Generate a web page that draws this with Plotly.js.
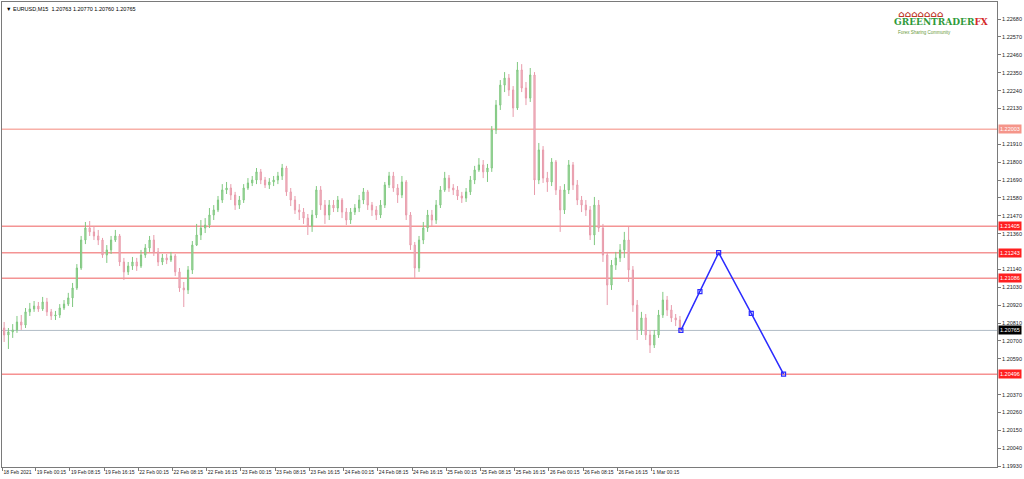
<!DOCTYPE html>
<html><head><meta charset="utf-8">
<script src="https://cdn.plot.ly/plotly-3.0.1.min.js"></script>
<style>html,body{margin:0;padding:0;background:#fff}#chart{width:1024px;height:479px}</style>
</head><body><div id="chart"></div>
<script>
// Hourly OHLC (18 Feb 2021 - 1 Mar 2021)
const openP = [1.20780,1.20737,1.20756,1.20768,1.20817,1.20798,1.20879,1.20897,1.20915,1.20897,
 1.20940,1.20879,1.20854,1.20860,1.20903,1.20927,1.20965,1.21026,1.21149,1.21321,
 1.21395,1.21371,1.21346,1.21321,1.21229,1.21260,1.21321,1.21346,1.21186,1.21125,
 1.21161,1.21186,1.21161,1.21229,1.21272,1.21321,1.21248,1.21186,1.21211,1.21198,
 1.21223,1.21125,1.21026,1.21014,1.21137,1.21290,1.21352,1.21395,1.21413,1.21475,
 1.21506,1.21567,1.21629,1.21641,1.21598,1.21536,1.21567,1.21641,1.21672,1.21690,
 1.21740,1.21690,1.21660,1.21678,1.21690,1.21715,1.21764,1.21617,1.21567,1.21506,
 1.21493,1.21456,1.21407,1.21475,1.21629,1.21536,1.21475,1.21536,1.21518,1.21567,
 1.21493,1.21444,1.21493,1.21518,1.21567,1.21617,1.21536,1.21506,1.21475,1.21536,
 1.21660,1.21715,1.21641,1.21598,1.21678,1.21475,1.21290,1.21149,1.21321,1.21395,
 1.21475,1.21444,1.21536,1.21629,1.21702,1.21641,1.21629,1.21592,1.21579,1.21617,
 1.21690,1.21752,1.21783,1.21740,1.21764,1.21998,1.22151,1.22274,1.22317,1.22244,
 1.22133,1.22367,1.22256,1.22194,1.22336,1.21690,1.21875,1.21702,1.21678,1.21801,
 1.21629,1.21506,1.21629,1.21783,1.21660,1.21567,1.21536,1.21506,1.21352,1.21536,
 1.21395,1.21229,1.21044,1.21167,1.21211,1.21260,1.21321,1.21137,1.20921,1.20768,
 1.20842,1.20737,1.20675,1.20737,1.20860,1.20952,1.20891,1.20842,1.20829];
const highP = [1.20817,1.20780,1.20804,1.20854,1.20860,1.20903,1.20934,1.20946,1.20940,1.20971,
 1.20965,1.20897,1.20885,1.20927,1.20952,1.20996,1.21057,1.21173,1.21346,1.21432,
 1.21438,1.21407,1.21383,1.21334,1.21290,1.21346,1.21383,1.21358,1.21211,1.21186,
 1.21217,1.21211,1.21260,1.21296,1.21346,1.21352,1.21272,1.21235,1.21235,1.21248,
 1.21235,1.21149,1.21063,1.21161,1.21315,1.21420,1.21444,1.21456,1.21518,1.21536,
 1.21592,1.21665,1.21678,1.21665,1.21617,1.21592,1.21665,1.21702,1.21715,1.21764,
 1.21758,1.21709,1.21702,1.21715,1.21740,1.21789,1.21777,1.21641,1.21592,1.21542,
 1.21518,1.21481,1.21506,1.21653,1.21653,1.21567,1.21567,1.21567,1.21592,1.21579,
 1.21518,1.21518,1.21542,1.21598,1.21641,1.21629,1.21555,1.21530,1.21567,1.21678,
 1.21740,1.21740,1.21665,1.21715,1.21690,1.21493,1.21309,1.21346,1.21432,1.21506,
 1.21506,1.21567,1.21653,1.21740,1.21721,1.21665,1.21653,1.21617,1.21641,1.21715,
 1.21777,1.21825,1.21813,1.21789,1.22022,1.22182,1.22305,1.22354,1.22342,1.22268,
 1.22416,1.22403,1.22293,1.22379,1.22354,1.21918,1.21899,1.21740,1.21825,1.21813,
 1.21653,1.21665,1.21813,1.21801,1.21690,1.21592,1.21567,1.21530,1.21586,1.21567,
 1.21420,1.21248,1.21198,1.21248,1.21296,1.21371,1.21401,1.21161,1.20952,1.20879,
 1.20866,1.20768,1.20768,1.20891,1.21002,1.20977,1.20921,1.20866,1.20854];
const lowP = [1.20694,1.20651,1.20719,1.20750,1.20768,1.20780,1.20854,1.20879,1.20879,1.20885,
 1.20854,1.20829,1.20829,1.20842,1.20891,1.20915,1.20909,1.21014,1.21137,1.21296,
 1.21346,1.21321,1.21290,1.21211,1.21180,1.21235,1.21309,1.21161,1.21075,1.21106,
 1.21137,1.21131,1.21149,1.21211,1.21248,1.21223,1.21161,1.21167,1.21173,1.21186,
 1.21100,1.21002,1.20909,1.20989,1.21112,1.21284,1.21321,1.21364,1.21395,1.21444,
 1.21493,1.21549,1.21604,1.21567,1.21506,1.21512,1.21549,1.21629,1.21653,1.21665,
 1.21665,1.21641,1.21635,1.21653,1.21665,1.21690,1.21592,1.21530,1.21481,1.21444,
 1.21420,1.21352,1.21371,1.21456,1.21506,1.21420,1.21444,1.21493,1.21493,1.21456,
 1.21413,1.21420,1.21475,1.21493,1.21542,1.21506,1.21469,1.21444,1.21456,1.21518,
 1.21641,1.21617,1.21549,1.21579,1.21444,1.21260,1.21088,1.21125,1.21296,1.21371,
 1.21407,1.21420,1.21518,1.21617,1.21617,1.21598,1.21567,1.21549,1.21555,1.21598,
 1.21665,1.21740,1.21702,1.21678,1.21740,1.21973,1.22121,1.22231,1.22207,1.22078,
 1.22121,1.22231,1.22151,1.22170,1.21598,1.21665,1.21672,1.21617,1.21653,1.21598,
 1.21371,1.21481,1.21604,1.21629,1.21536,1.21493,1.21469,1.21321,1.21290,1.21371,
 1.21186,1.20921,1.21014,1.21137,1.21186,1.21211,1.21063,1.20879,1.20706,1.20737,
 1.20706,1.20626,1.20657,1.20719,1.20842,1.20854,1.20817,1.20792,1.20750];
const closeP = [1.20737,1.20756,1.20768,1.20817,1.20798,1.20879,1.20897,1.20915,1.20897,1.20940,
 1.20879,1.20854,1.20860,1.20903,1.20927,1.20965,1.21026,1.21149,1.21321,1.21395,
 1.21371,1.21346,1.21321,1.21229,1.21260,1.21321,1.21346,1.21186,1.21125,1.21161,
 1.21186,1.21161,1.21229,1.21272,1.21321,1.21248,1.21186,1.21211,1.21198,1.21223,
 1.21125,1.21026,1.21014,1.21137,1.21290,1.21352,1.21395,1.21413,1.21475,1.21506,
 1.21567,1.21629,1.21641,1.21598,1.21536,1.21567,1.21641,1.21672,1.21690,1.21740,
 1.21690,1.21660,1.21678,1.21690,1.21715,1.21764,1.21617,1.21567,1.21506,1.21493,
 1.21456,1.21407,1.21475,1.21629,1.21536,1.21475,1.21536,1.21518,1.21567,1.21493,
 1.21444,1.21493,1.21518,1.21567,1.21617,1.21536,1.21506,1.21475,1.21536,1.21660,
 1.21715,1.21641,1.21598,1.21678,1.21475,1.21290,1.21149,1.21321,1.21395,1.21475,
 1.21444,1.21536,1.21629,1.21702,1.21641,1.21629,1.21592,1.21579,1.21617,1.21690,
 1.21752,1.21783,1.21740,1.21764,1.21998,1.22151,1.22274,1.22317,1.22244,1.22133,
 1.22367,1.22256,1.22194,1.22336,1.21690,1.21875,1.21702,1.21678,1.21801,1.21629,
 1.21506,1.21629,1.21783,1.21660,1.21567,1.21536,1.21506,1.21352,1.21536,1.21395,
 1.21229,1.21044,1.21167,1.21211,1.21260,1.21321,1.21137,1.20921,1.20768,1.20842,
 1.20737,1.20675,1.20737,1.20860,1.20952,1.20891,1.20842,1.20829,1.20765];

// Time axis (M15 bar numbers) and labels
const tickBars = [0,31,63,95,127,159,191,223,255,287,319,351,383,415,447,479,511,543,575,607];
const tickLabels = ["18 Feb 2021","19 Feb 00:15","19 Feb 08:15","19 Feb 16:15","22 Feb 00:15","22 Feb 08:15",
 "22 Feb 16:15","23 Feb 00:15","23 Feb 08:15","23 Feb 16:15","24 Feb 00:15","24 Feb 08:15","24 Feb 16:15",
 "25 Feb 00:15","25 Feb 08:15","25 Feb 16:15","26 Feb 00:15","26 Feb 08:15","26 Feb 16:15","1 Mar 00:15"];
// Price scale labels visible on the right (the ones hidden behind level tags are left out)
const priceTicks = [1.22680,1.22570,1.22460,1.22350,1.22240,1.22130,1.21910,1.21800,1.21690,1.21580,
 1.21470,1.21360,1.21140,1.21030,1.20920,1.20810,1.20700,1.20590,1.20370,1.20260,1.20150,1.20040,1.19930];

// Horizontal levels
const levelPrices = [1.22003, 1.21405, 1.21243, 1.21086, 1.20496];
const levelLineColors = ['#f8b0a8', '#f49494', '#f49494', '#f49494', '#f25a5a'];
const levelLabelColors = ['#f5958a', '#ff2020', '#ff2020', '#ff2020', '#ff2020'];
const currentPrice = 1.20765;
const titleText = 'EURUSD,M15  1.20763 1.20770 1.20760 1.20765';

// Projected path (blue)
const projBars = [634.4, 652.2, 669.7, 700.2, 730.4];
const projPrices = [1.20765, 1.21004, 1.21243, 1.20870, 1.20496];

const barX = openP.map((_, k) => 4 * k + 1.5);

const traces = [
  {
    type: 'candlestick', x: barX, open: openP, high: highP, low: lowP, close: closeP,
    increasing: {line: {color: '#80c880', width: 1}, fillcolor: '#aedeae'},
    decreasing: {line: {color: '#e89bab', width: 1}, fillcolor: '#f4c3cd'},
    whiskerwidth: 0, hoverinfo: 'skip', showlegend: false
  },
  {
    type: 'scatter', mode: 'lines+markers', x: projBars, y: projPrices,
    line: {color: '#2b2bff', width: 1.5},
    marker: {symbol: 'square-open', size: 4, color: '#2b2bff', line: {width: 1.2, color: '#2b2bff'}},
    hoverinfo: 'skip', showlegend: false
  }
];

const shapes = levelPrices.map((p, i) => ({
  type: 'line', xref: 'paper', x0: 0, x1: 1, yref: 'y', y0: p, y1: p,
  line: {color: levelLineColors[i], width: i === levelPrices.length - 1 ? 1 : 1.5}, layer: 'below'
}));
shapes.push({type: 'line', xref: 'paper', x0: 0, x1: 1, yref: 'y', y0: currentPrice, y1: currentPrice,
  line: {color: '#b2bcc6', width: 1}, layer: 'below'});

const annotations = levelPrices.map((p, i) => ({
  xref: 'paper', x: 1, xanchor: 'left', xshift: 1, yref: 'y', y: p, yanchor: 'middle',
  text: p.toFixed(5), showarrow: false, bgcolor: levelLabelColors[i], borderpad: 1,
  font: {size: 5.5, color: '#ffffff', family: 'Liberation Sans'}
}));
annotations.push({
  xref: 'paper', x: 1, xanchor: 'left', xshift: 1, yref: 'y', y: currentPrice, yanchor: 'middle',
  text: currentPrice.toFixed(5), showarrow: false, bgcolor: '#000000', borderpad: 1,
  font: {size: 5.5, color: '#ffffff', family: 'Liberation Sans'}
});
annotations.push({
  xref: 'paper', x: 0, xanchor: 'left', xshift: 2, yref: 'paper', y: 1, yanchor: 'top', yshift: -2,
  text: '▼ ' + titleText, showarrow: false,
  font: {size: 5.5, color: '#000000', family: 'Liberation Sans'}
});
// Logo
annotations.push({
  xref: 'paper', x: 0.8985, xanchor: 'left', yref: 'paper', y: 0.990, yanchor: 'top',
  text: '<b>⌂⌂⌂⌂⌂⌂⌂</b>', showarrow: false,
  font: {size: 9, color: '#c0392b', family: 'DejaVu Sans'}
});
annotations.push({
  xref: 'paper', x: 0.8945, xanchor: 'left', yref: 'paper', y: 0.972, yanchor: 'top',
  text: '<b>GREENTRADER</b><b><span style="color:#d42a2a">FX</span></b>', showarrow: false,
  font: {size: 9, color: '#2f9a3a', family: 'DejaVu Serif'}
});
annotations.push({
  xref: 'paper', x: 0.898, xanchor: 'left', yref: 'paper', y: 0.944, yanchor: 'top',
  text: 'Forex Sharing Community', showarrow: false,
  font: {size: 4.5, color: '#6a9a3a', family: 'Liberation Sans'}
});

const layout = {
  width: 1024, height: 479,
  margin: {l: 2, r: 27, t: 2, b: 12, pad: 0},
  paper_bgcolor: '#ffffff', plot_bgcolor: '#ffffff',
  showlegend: false,
  boxgap: 0.6,
  xaxis: {
    range: [-0.5, 930], showgrid: false, zeroline: false,
    showline: true, mirror: true, linecolor: '#7a7a7a', linewidth: 1,
    tickmode: 'array', tickvals: tickBars, ticktext: tickLabels,
    ticks: 'outside', ticklen: 3, tickcolor: '#7a7a7a',
    tickangle: 0, automargin: false,
    ticklabelposition: 'outside right',
    tickfont: {size: 5, color: '#222222', family: 'Liberation Sans'},
    rangeslider: {visible: false}, fixedrange: true
  },
  yaxis: {
    side: 'right', range: [1.19925, 1.22785], showgrid: false, zeroline: false,
    showline: true, mirror: true, linecolor: '#7a7a7a', linewidth: 1,
    tickmode: 'array', tickvals: priceTicks, tickformat: '.5f',
    ticks: 'outside', ticklen: 3, tickcolor: '#7a7a7a',
    tickfont: {size: 5.5, color: '#222222', family: 'Liberation Sans'},
    fixedrange: true
  },
  shapes: shapes,
  annotations: annotations
};

Plotly.newPlot('chart', traces, layout, {displayModeBar: false, staticPlot: true});
</script>
</body></html>
